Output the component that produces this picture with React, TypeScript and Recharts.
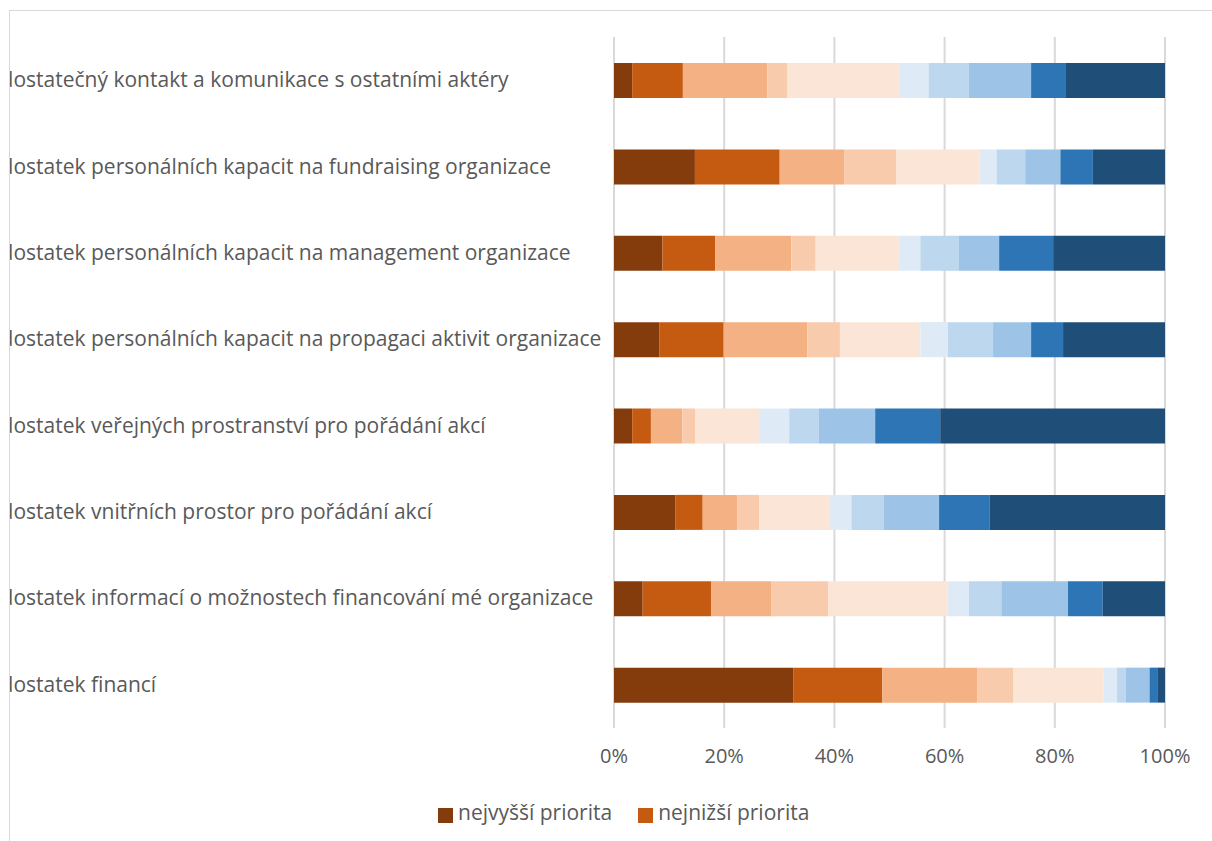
import { BarChart, Bar, XAxis, YAxis, CartesianGrid, Legend } from "recharts";

const categories = [
  "Nedostatečný kontakt a komunikace s ostatními aktéry",
  "Nedostatek personálních kapacit na fundraising organizace",
  "Nedostatek personálních kapacit na management organizace",
  "Nedostatek personálních kapacit na propagaci aktivit organizace",
  "Nedostatek veřejných prostranství pro pořádání akcí",
  "Nedostatek vnitřních prostor pro pořádání akcí",
  "Nedostatek informací o možnostech financování mé organizace",
  "Nedostatek financí",
];

// podíly odpovědí podle priority (1 = nejvyšší ... 10)
const level1 = [3.3, 14.7, 8.8, 8.2, 3.3, 11.1, 5.2, 32.6];
const level2 = [9.2, 15.4, 9.6, 11.7, 3.4, 5.0, 12.4, 16.1];
const level3 = [15.3, 11.7, 13.8, 15.2, 5.7, 6.3, 10.9, 17.2];
const level4 = [3.7, 9.5, 4.4, 5.9, 2.3, 4.0, 10.4, 6.6];
const level5 = [20.2, 15.1, 15.1, 14.6, 11.6, 12.8, 21.7, 16.3];
const level6 = [5.4, 3.1, 3.9, 5.0, 5.5, 3.9, 3.8, 2.5];
const level7 = [7.3, 5.2, 7.0, 8.2, 5.4, 5.9, 5.9, 1.6];
const level8 = [11.3, 6.4, 7.3, 6.9, 10.2, 10.0, 12.1, 4.3];
const level9 = [6.2, 5.9, 9.8, 5.8, 11.8, 9.2, 6.3, 1.4];
const level10 = [18.1, 13.1, 20.3, 18.5, 40.8, 31.8, 11.3, 1.4];

const levels = [level1, level2, level3, level4, level5, level6, level7, level8, level9, level10];
const seriesNames = ["nejvyšší priorita", "nejnižší priorita", "3", "4", "5", "6", "7", "8", "9", "10"];
const colors = [
  "#843C0C", "#C55A11", "#F4B183", "#F8CBAD", "#FBE5D6",
  "#DEEBF7", "#BDD7EE", "#9DC3E6", "#2E75B6", "#1F4E79",
];
const xTicks = [0, 0.2, 0.4, 0.6, 0.8, 1];

const data = categories.map((name, i) => {
  const row: Record<string, string | number> = { name };
  levels.forEach((lv, j) => {
    row[`p${j + 1}`] = lv[i];
  });
  return row;
});

const CategoryTick = (props: any) => {
  const { y, payload } = props;
  return (
    <text x={-37} y={y} dy={7} textAnchor="start" fill="#595959" fontSize={21}>
      {payload.value}
    </text>
  );
};

export default function App() {
  return (
    <div
      style={{
        position: "absolute",
        left: 9,
        top: 10,
        width: 1203,
        height: 831,
        fontFamily: "'Open Sans', sans-serif",
        borderLeft: "1px solid #d9d9d9",
        borderTop: "1px solid #d9d9d9",
        overflow: "hidden",
      }}
    >
      <BarChart
        width={1203}
        height={831}
        data={data}
        layout="vertical"
        stackOffset="expand"
        barSize={35}
        margin={{ top: 26, right: 48, bottom: 46, left: 0 }}
      >
        <CartesianGrid horizontal={false} stroke="#d9d9d9" strokeWidth={2} />
        <XAxis
          type="number"
          domain={[0, 1]}
          ticks={xTicks}
          tickFormatter={(v: number) => `${Math.round(v * 100)}%`}
          axisLine={false}
          tickLine={false}
          height={40}
          tick={{ fill: "#595959", fontSize: 20, dy: 13 }}
        />
        <YAxis
          type="category"
          dataKey="name"
          width={604}
          axisLine={false}
          tickLine={false}
          tick={<CategoryTick />}
        />
        <Legend
          align="left"
          iconType="square"
          iconSize={15}
          itemSorter="dataKey"
          wrapperStyle={{ left: 428, top: 787, bottom: "auto", width: 470 }}
          formatter={(value: string) => (
            <span style={{ color: "#595959", fontSize: 21, paddingLeft: 1, paddingRight: 16 }}>{value}</span>
          )}
        />
        {levels.map((_, j) => (
          <Bar
            key={j}
            dataKey={`p${j + 1}`}
            name={seriesNames[j]}
            stackId="a"
            fill={colors[j]}
            legendType={j < 2 ? "square" : "none"}
            isAnimationActive={false}
          />
        ))}
      </BarChart>
    </div>
  );
}
